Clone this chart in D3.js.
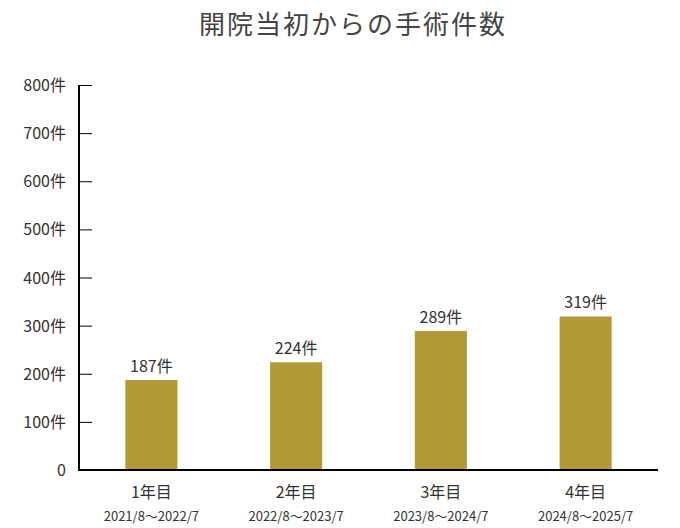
<!DOCTYPE html><html><head><meta charset="utf-8"><script src="https://cdn.jsdelivr.net/npm/d3@7"></script>
<style>body{margin:0;background:#fff}text{font-family:"Noto Sans CJK JP","Noto Sans",sans-serif}</style></head><body><svg id="c" width="680" height="528"></svg><script>
const categories=["1年目","2年目","3年目","4年目"];
const periods=["2021/8～2022/7","2022/8～2023/7","2023/8～2024/7","2024/8～2025/7"];
const values=[187,224,289,319];
const tickValues=[0,100,200,300,400,500,600,700,800];
const svg=d3.select("#c");
const x=d3.scaleBand().domain(categories).range([79,658]).paddingInner(0.64).paddingOuter(0.32);
const y=d3.scaleLinear().domain([0,800]).range([470,85]);
svg.append("text").attr("x",353).attr("y",34).attr("text-anchor","middle").attr("font-size",26).attr("fill","#444").attr("letter-spacing",2).text("開院当初からの手術件数");
svg.selectAll("rect.b").data(values).join("rect").attr("fill","#b29a39")
 .attr("x",(d,i)=>x(categories[i])).attr("width",x.bandwidth()).attr("y",d=>y(d)).attr("height",d=>y(0)-y(d));
svg.selectAll("text.v").data(values).join("text").attr("text-anchor","middle").attr("font-size",16).attr("fill","#333")
 .attr("x",(d,i)=>x(categories[i])+x.bandwidth()/2).attr("y",d=>y(d)-8).text(d=>d+"件");
const ya=svg.append("g").attr("transform","translate(79,0)").call(d3.axisRight(y).tickValues(tickValues).tickSize(13).tickFormat(""));
ya.select(".domain").remove();
svg.append("line").attr("x1",79).attr("x2",79).attr("y1",85).attr("y2",470).attr("stroke","#000").attr("stroke-width",2);
svg.append("line").attr("x1",78).attr("x2",658).attr("y1",470).attr("y2",470).attr("stroke","#000").attr("stroke-width",2);
svg.selectAll("text.t").data(tickValues).join("text").attr("text-anchor","end").attr("font-size",16).attr("fill","#333")
 .attr("x",66).attr("y",d=>y(d)+6).text(d=>d===0?"0":d+"件");
categories.forEach((c,i)=>{const cx=x(c)+x.bandwidth()/2;
 svg.append("text").attr("x",cx).attr("y",498).attr("text-anchor","middle").attr("font-size",16).attr("fill","#333").text(c);
 svg.append("text").attr("x",cx).attr("y",521).attr("text-anchor","middle").attr("font-size",13).attr("fill","#333").text(periods[i]);});
</script></body></html>
